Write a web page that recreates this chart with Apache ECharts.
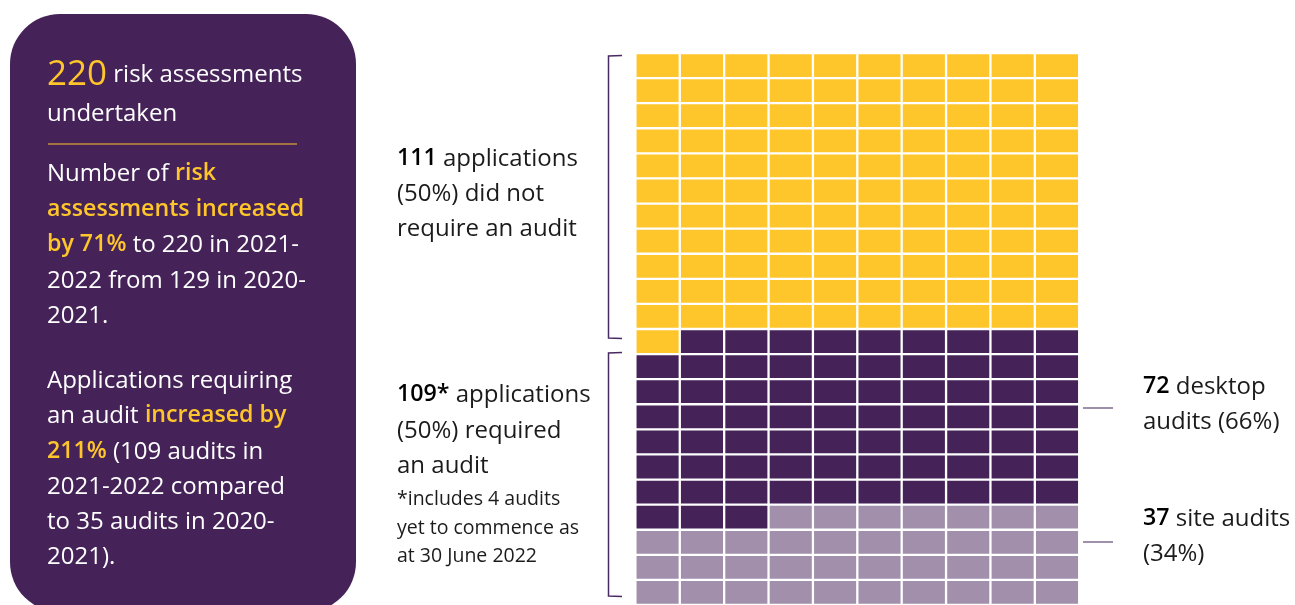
<!DOCTYPE html>
<html>
<head>
<meta charset="utf-8">
<script src="https://cdn.jsdelivr.net/npm/echarts@6/dist/echarts.min.js"></script>
<style>
  html, body { margin: 0; padding: 0; background: #fff; }
  #chart { width: 1295px; height: 605px; }
</style>
</head>
<body>
<div id="chart"></div>
<script>
// Waffle of 220 risk assessments, filled row by row from the top-left
const categories = ['did not require an audit', 'desktop audits', 'site audits'];
const cellCounts = [111, 72, 37];
const categoryColors = ['#FFC62B', '#452359', '#A18FAB'];
const columnCount = 10;
const rowCount = 22;
const columnLabels = Array.from({ length: columnCount }, (_, i) => String(i));
const rowLabels = Array.from({ length: rowCount }, (_, i) => String(i));

const cells = [];
let idx = 0;
cellCounts.forEach((count, k) => {
  for (let i = 0; i < count; i++, idx++) {
    cells.push([idx % columnCount, Math.floor(idx / columnCount), k]);
  }
});

const FONT = '"Open Sans", "Noto Sans", sans-serif';
const YELLOW = '#FFC62B';
const PANEL = '#452359';
const BODY = 24;
const STRONG = 23.2;
const DY = 1.8;

function textLine(x, y, text, opts) {
  return {
    type: 'text',
    x: x, y: y + DY,
    silent: true,
    style: {
      text: text,
      fill: opts.fill,
      fontSize: opts.size,
      fontFamily: FONT,
      verticalAlign: 'middle',
      align: 'left',
      rich: opts.rich
    }
  };
}

const richDark = {
  b: { fill: '#000', fontWeight: 600, fontSize: STRONG, fontFamily: FONT }
};
const richPanel = {
  y: { fill: YELLOW, fontWeight: 600, fontSize: STRONG, fontFamily: FONT },
  big: { fill: YELLOW, fontSize: 35, fontFamily: FONT }
};

const darkText = (x, y, t, size) => textLine(x, y, t, { fill: '#1b1b1b', size: size || BODY, rich: richDark });
const panelText = (x, y, t) => textLine(x, y, t, { fill: '#ffffff', size: BODY, rich: richPanel });

const graphics = [
  // summary panel
  { type: 'rect', silent: true, shape: { x: 10, y: 14, width: 346, height: 598, r: 50 }, style: { fill: PANEL } },
  panelText(47, 73, '{big|220} risk assessments'),
  panelText(47, 112, 'undertaken'),
  { type: 'line', silent: true, shape: { x1: 48, y1: 144, x2: 297, y2: 144 }, style: { stroke: YELLOW, lineWidth: 1 } },
  panelText(47, 172, 'Number of {y|risk}'),
  panelText(47, 208, '{y|assessments increased}'),
  panelText(47, 243, '{y|by 71%} to 220 in 2021-'),
  panelText(47, 279, '2022 from 129 in 2020-'),
  panelText(47, 314, '2021.'),
  panelText(47, 379, 'Applications requiring'),
  panelText(47, 414, 'an audit {y|increased by}'),
  panelText(47, 450, '{y|211%} (109 audits in'),
  panelText(47, 485, '2021-2022 compared'),
  panelText(47, 520, 'to 35 audits in 2020-'),
  panelText(47, 555, '2021).'),

  // annotations beside the waffle
  darkText(397, 157, '{b|111} applications'),
  darkText(397, 192, '(50%) did not'),
  darkText(397, 227, 'require an audit'),
  darkText(397, 393, '{b|109*} applications'),
  darkText(397, 429, '(50%) required'),
  darkText(397, 464, 'an audit'),
  darkText(397, 498, '*includes 4 audits', 19.5),
  darkText(397, 527, 'yet to commence as', 19.5),
  darkText(397, 555, 'at 30 June 2022', 19.5),

  darkText(1143, 385, '{b|72} desktop'),
  darkText(1143, 420, 'audits (66%)'),
  darkText(1143, 517, '{b|37} site audits'),
  darkText(1143, 552, '(34%)'),

  // brackets
  { type: 'polyline', silent: true, shape: { points: [[622, 55.5], [608.5, 56], [608.5, 338], [622, 338.5]] }, style: { stroke: '#4a2a62', lineWidth: 1.5, fill: null } },
  { type: 'polyline', silent: true, shape: { points: [[622, 352.5], [608.5, 353], [608.5, 596], [622, 596.5]] }, style: { stroke: '#4a2a62', lineWidth: 1.5, fill: null } },

  // leader lines
  { type: 'line', silent: true, shape: { x1: 1083, y1: 408, x2: 1113, y2: 408 }, style: { stroke: '#5e4672', lineWidth: 1.2 } },
  { type: 'line', silent: true, shape: { x1: 1083, y1: 542, x2: 1113, y2: 542 }, style: { stroke: '#5e4672', lineWidth: 1.2 } }
];

const GAP = 2.3;
const chart = echarts.init(document.getElementById('chart'), null, { renderer: 'canvas' });
chart.setOption({
  animation: false,
  backgroundColor: '#ffffff',
  grid: { left: 635.4, top: 53, width: 443.8, height: 552.2 },
  xAxis: { type: 'category', data: columnLabels, show: false },
  yAxis: { type: 'category', data: rowLabels, inverse: true, show: false },
  series: [{
    type: 'custom',
    coordinateSystem: 'cartesian2d',
    data: cells,
    renderItem: function (params, api) {
      const c = api.coord([api.value(0), api.value(1)]);
      const s = api.size([1, 1]);
      return {
        type: 'rect',
        shape: { x: c[0] - s[0] / 2 + GAP / 2, y: c[1] - s[1] / 2 + GAP / 2, width: s[0] - GAP, height: s[1] - GAP },
        style: { fill: categoryColors[api.value(2)] }
      };
    }
  }],
  graphic: graphics
});
</script>
</body>
</html>
